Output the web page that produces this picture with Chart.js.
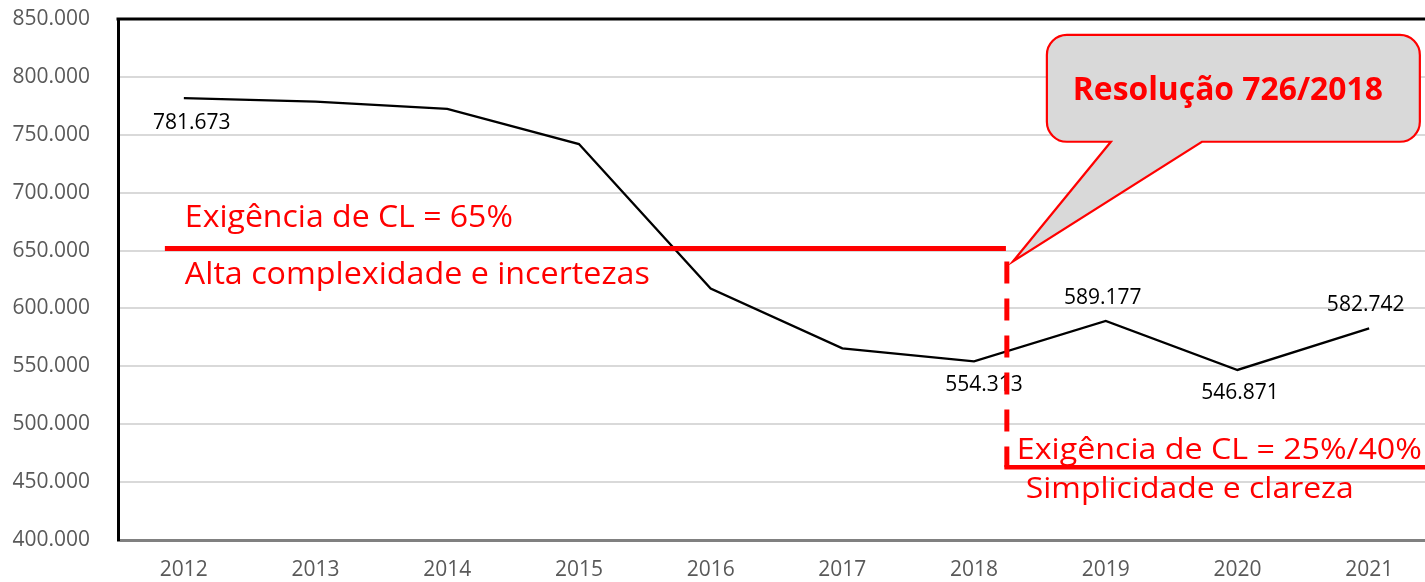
<!DOCTYPE html>
<html><head><meta charset="utf-8">
<script src="https://cdn.jsdelivr.net/npm/chart.js@4.4.1/dist/chart.umd.min.js"></script>
<style>html,body{margin:0;padding:0;overflow:hidden;background:#fff}#wrap{width:1440px;height:582px;position:relative}</style>
</head><body><div id="wrap"><canvas id="c"></canvas></div>
<script>
// ---- data ----
const years = ['2012','2013','2014','2015','2016','2017','2018','2019','2020','2021'];
const values = [781673, 778700, 772400, 742000, 617200, 565500, 554313, 589177, 546871, 582742];
const labeledYears = ['2012','2018','2019','2020','2021'];
const yMin = 400000, yMax = 850000, yStep = 50000;
const annotTexts = ['Exigência de CL = 65%', 'Alta complexidade e incertezas', 'Exigência de CL = 25%/40%', 'Simplicidade e clareza'];
const calloutText = 'Resolução 726/2018';

const fmt = v => String(Math.round(v)).replace(/\B(?=(\d{3})+(?!\d))/g, '.');
const FONT = '"Open Sans", "Noto Sans", sans-serif';
const RED = '#ff0000';

// label offsets (style) keyed by year
const labelOffsets = {'2012':[8,25],'2018':[10,24],'2019':[-3,-23],'2020':[2.5,23],'2021':[-3.5,-23.5]};

function fitText(ctx, txt, x, yb, size, weight, width, align){
  ctx.font = `${weight} ${size}px ${FONT}`;
  const w = ctx.measureText(txt).width;
  const sx = width / w;
  ctx.save();
  ctx.translate(x, yb);
  ctx.scale(sx, 1);
  ctx.textAlign = align; ctx.textBaseline = 'alphabetic';
  ctx.fillText(txt, 0, 0);
  ctx.restore();
}

const annotPlugin = {
  id: 'annot',
  afterDraw(chart){
    const {ctx, chartArea:a, scales:{x, y}} = chart;
    const X = i => x.getPixelForValue(i), Y = v => y.getPixelForValue(v);
    const line = (x1,y1,x2,y2) => { ctx.beginPath(); ctx.moveTo(x1,y1); ctx.lineTo(x2,y2); ctx.stroke(); };
    ctx.save();
    // top border of plot area
    ctx.strokeStyle = '#000'; ctx.lineWidth = 3;
    line(a.left - 1.5, a.top, a.right, a.top);

    // data labels
    const meta = chart.getDatasetMeta(0);
    ctx.fillStyle = '#000';
    ctx.font = `21px ${FONT}`;
    ctx.textAlign = 'center'; ctx.textBaseline = 'middle';
    labeledYears.forEach(yr => {
      const i = years.indexOf(yr);
      const el = meta.data[i];
      const [dx, dy] = labelOffsets[yr];
      ctx.fillText(fmt(values[i]), el.x + dx, el.y + dy);
    });

    // red annotations
    ctx.strokeStyle = RED; ctx.fillStyle = RED; ctx.lineCap = 'butt';
    ctx.lineWidth = 5;
    line(X(-0.144), Y(651700), X(6.242), Y(651700));
    ctx.setLineDash([22, 15]);
    line(X(6.249), Y(640500), X(6.249), Y(462900));
    ctx.setLineDash([]);
    ctx.lineWidth = 4.5;
    line(X(6.249) - 2.5, Y(462900), a.right + 10, Y(462900));

    fitText(ctx, annotTexts[0], X(0.0076), Y(670086), 31, 'normal', 328, 'left');
    fitText(ctx, annotTexts[1], X(0.0076), Y(620690), 31, 'normal', 465, 'left');
    fitText(ctx, annotTexts[2], X(6.325), Y(470259), 29.5, 'normal', 405, 'left');
    fitText(ctx, annotTexts[3], X(6.393), Y(436638), 28.5, 'normal', 328, 'left');

    // callout
    const L = X(6.553), R = X(9.385), T = Y(836207), B = Y(743966), r = 20;
    const b1 = X(7.039), b2 = X(7.730), tx = X(6.295), ty = Y(640517);
    ctx.beginPath();
    ctx.moveTo(L + r, T);
    ctx.lineTo(R - r, T);
    ctx.arcTo(R, T, R, T + r, r);
    ctx.lineTo(R, B - r);
    ctx.arcTo(R, B, R - r, B, r);
    ctx.lineTo(b2, B);
    ctx.lineTo(tx, ty);
    ctx.lineTo(b1, B);
    ctx.lineTo(L + r, B);
    ctx.arcTo(L, B, L, B - r, r);
    ctx.lineTo(L, T + r);
    ctx.arcTo(L, T, L + r, T, r);
    ctx.closePath();
    ctx.fillStyle = '#d9d9d9'; ctx.fill();
    ctx.strokeStyle = RED; ctx.lineWidth = 2.2; ctx.lineJoin = 'miter'; ctx.stroke();
    ctx.fillStyle = RED;
    fitText(ctx, calloutText, X(7.927), Y(780172), 32, 'bold', 310, 'center');
    ctx.restore();
  }
};

new Chart(document.getElementById('c'), {
  type: 'line',
  data: {
    labels: years,
    datasets: [{
      data: values,
      borderColor: '#000',
      borderWidth: 2.3,
      pointRadius: 0,
      tension: 0,
      fill: false
    }]
  },
  options: {
    responsive: true,
    maintainAspectRatio: false,
    animation: false,
    layout: { padding: { top: 19, right: 5, left: 0, bottom: 0 } },
    plugins: { legend: { display: false }, tooltip: { enabled: false } },
    scales: {
      x: {
        offset: true,
        grid: { display: false, drawTicks: false },
        border: { display: true, color: '#808080', width: 3 },
        ticks: { color: '#595959', font: { family: FONT, size: 21 }, padding: 17, maxRotation: 0 },
        afterFit: s => { s.height = 42; }
      },
      y: {
        min: yMin, max: yMax,
        ticks: { stepSize: yStep, color: '#595959', font: { family: FONT, size: 21 }, padding: 4, callback: v => fmt(v) },
        grid: { color: '#d9d9d9', lineWidth: 2, drawTicks: true, tickLength: 24, tickColor: 'rgba(0,0,0,0)' },
        border: { display: true, color: '#000', width: 3 },
        afterFit: s => { s.width = 118; }
      }
    }
  },
  plugins: [annotPlugin]
});
</script>
</body></html>
